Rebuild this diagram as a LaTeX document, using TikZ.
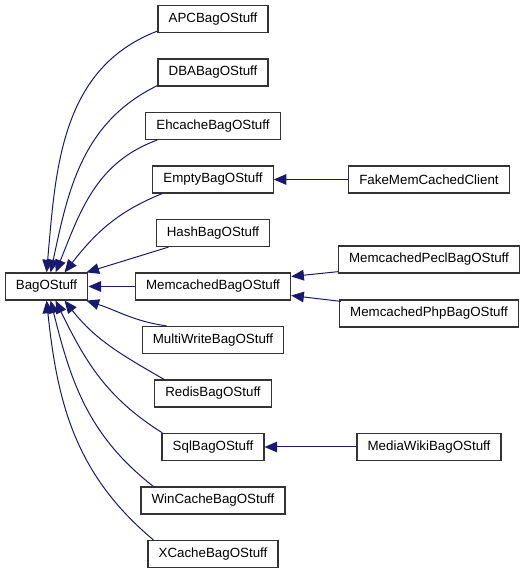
\documentclass[tikz,border=0pt]{standalone}
\usepackage{fontspec}
\setmainfont{Liberation Sans}
\usetikzlibrary{arrows.meta,calc}
\definecolor{KEdge}{HTML}{191970}
\definecolor{KBox}{HTML}{333333}

\begin{document}
\begin{tikzpicture}[x=0.75pt,y=0.75pt,
    cls/.style={draw=KBox,line width=0.9pt,fill=white,font=\fontsize{10}{12}\selectfont,
      minimum height=20.25pt,inner xsep=8pt,inner ysep=0pt},
    inh/.style={KEdge,line width=0.75pt,{Triangle[length=9.5pt,width=8pt]}-}]
  \useasboundingbox (0,0) rectangle (525,573);
  % base class
  \node[cls] (bag) at (46.5,286.5) {BagOStuff};
  % direct subclasses
  \node[cls] (apc)   at (213,554)   {APCBagOStuff};
  \node[cls] (dba)   at (213,500.5) {DBABagOStuff};
  \node[cls] (ehc)   at (213,447)   {EhcacheBagOStuff};
  \node[cls] (empty) at (213,393.5) {EmptyBagOStuff};
  \node[cls] (hash)  at (213,340)   {HashBagOStuff};
  \node[cls] (memc)  at (213,286.5) {MemcachedBagOStuff};
  \node[cls] (multi) at (213,233)   {MultiWriteBagOStuff};
  \node[cls] (redis) at (213,179.5) {RedisBagOStuff};
  \node[cls] (sql)   at (213,126)   {SqlBagOStuff};
  \node[cls] (winc)  at (213,72.5)  {WinCacheBagOStuff};
  \node[cls] (xc)    at (213,19)    {XCacheBagOStuff};
  % second level
  \node[cls] (fake) at (429,393.5) {FakeMemCachedClient};
  \node[cls] (pecl) at (429,313.5) {MemcachedPeclBagOStuff};
  \node[cls] (php)  at (429,259.5) {MemcachedPhpBagOStuff};
  \node[cls] (mw)   at (429,126)   {MediaWikiBagOStuff};
  % inheritance edges, upper fan
  \draw[inh] ($(bag.north west)+(42,0)$) to[out=85,in=201] ($(apc.south west)+(0,2)$);
  \draw[inh] ($(bag.north west)+(46,0)$) to[out=78,in=206] ($(dba.south west)+(0,1)$);
  \draw[inh] ($(bag.north west)+(51,0)$) to[out=68,in=200] ($(ehc.south west)+(12,0)$);
  \draw[inh] ($(bag.north west)+(60,0)$) to[out=52,in=202] ($(empty.south west)+(10,0)$);
  \draw[inh] ($(bag.north east)+(-2,0)$) -- ($(hash.south west)+(13,0)$);
  \draw[inh] (bag.east) -- (memc.west);
  % lower fan
  \draw[inh] ($(bag.south east)+(-2,0)$) to[out=-18,in=172] ($(multi.north west)+(25,0)$);
  \draw[inh] ($(bag.south west)+(60,0)$) to[out=-52,in=150] ($(redis.north west)+(10,0)$);
  \draw[inh] ($(bag.south west)+(51,0)$) to[out=-64,in=148] ($(sql.north west)+(1,0)$);
  \draw[inh] ($(bag.south west)+(46,0)$) to[out=-76,in=142] ($(winc.north west)+(13,0)$);
  \draw[inh] ($(bag.south west)+(42,0)$) to[out=-84,in=140] ($(xc.north west)+(6,0)$);
  % second level edges
  \draw[inh] (empty.east) -- (fake.west);
  \draw[inh] ($(memc.east)+(0,10)$) -- ($(pecl.south west)+(1,2)$);
  \draw[inh] ($(memc.east)+(0,-9)$) -- ($(php.north west)+(2,-2)$);
  \draw[inh] (sql.east) -- (mw.west);
\end{tikzpicture}
\end{document}
